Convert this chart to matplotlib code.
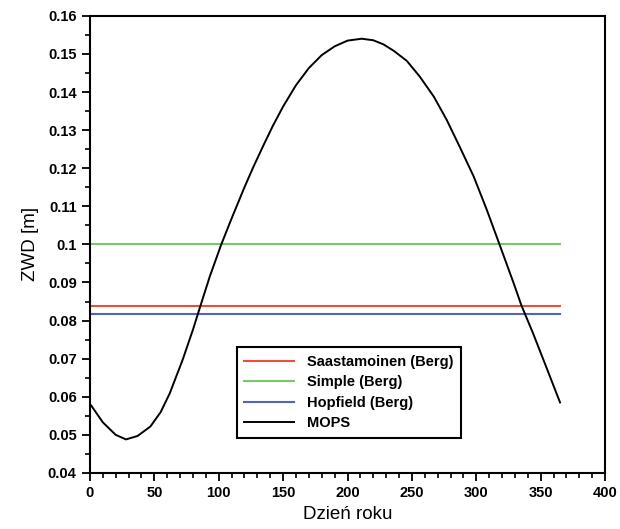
import numpy as np
import matplotlib.pyplot as plt
from matplotlib.ticker import MultipleLocator

# Dni roku i wartosci ZWD (model MOPS)
dni = [1, 10, 20, 28, 37, 47, 55, 62, 72, 80, 85, 93, 102, 110, 120, 127,
       135, 142, 150, 160, 170, 180, 190, 200, 211, 220, 228, 236, 246, 256,
       267, 277, 287, 298, 308, 318, 329, 335, 344, 355, 365]
zwd_mops = [0.0577, 0.0533, 0.0500, 0.0488, 0.0497, 0.0522, 0.0560, 0.0609,
            0.0697, 0.0776, 0.0830, 0.0915, 0.1000, 0.1068, 0.1150, 0.1204,
            0.1262, 0.1311, 0.1362, 0.1418, 0.1463, 0.1497, 0.1520, 0.1535,
            0.1540, 0.1536, 0.1525, 0.1508, 0.1482, 0.1441, 0.1388, 0.1327,
            0.1257, 0.1178, 0.1092, 0.1000, 0.0898, 0.0840, 0.0767, 0.0672,
            0.0585]

# Stale wartosci dla modeli Berga
dni_berg = [1, 365]
zwd_saastamoinen = [0.0837, 0.0837]
zwd_simple = [0.1000, 0.1000]
zwd_hopfield = [0.0816, 0.0816]

plt.rcParams['font.family'] = ['Liberation Sans', 'DejaVu Sans']

fig = plt.figure(figsize=(6.2, 5.29), dpi=100)
ax = fig.add_axes([0.145, 0.106, 0.831, 0.864])

ax.plot(dni_berg, zwd_saastamoinen, color="#e8503a", lw=1.5, label="Saastamoinen (Berg)")
ax.plot(dni_berg, zwd_simple, color="#78c86a", lw=1.5, label="Simple (Berg)")
ax.plot(dni_berg, zwd_hopfield, color="#5464b4", lw=1.5, label="Hopfield (Berg)")
ax.plot(dni, zwd_mops, color="black", lw=1.4, label="MOPS")

ax.set_xlim(0, 400)
ax.set_ylim(0.04, 0.16)
ax.xaxis.set_major_locator(MultipleLocator(50))
ax.xaxis.set_minor_locator(MultipleLocator(10))
ax.yaxis.set_minor_locator(MultipleLocator(0.005))
ax.set_yticks(np.arange(0.04, 0.1601, 0.01))
ax.set_yticklabels(["0.04", "0.05", "0.06", "0.07", "0.08", "0.09", "0.1",
                    "0.11", "0.12", "0.13", "0.14", "0.15", "0.16"])

ax.tick_params(which="major", direction="out", length=6, width=1.3,
               labelsize=10.5, top=False, right=False)
ax.tick_params(which="minor", direction="out", length=3.5, width=1.2,
               top=False, right=False)
for lab in ax.get_xticklabels() + ax.get_yticklabels():
    lab.set_fontweight("bold")
for s in ax.spines.values():
    s.set_linewidth(1.5)

ax.set_xlabel("Dzień roku", fontsize=13.5, labelpad=4)
ax.set_ylabel("ZWD [m]", fontsize=13.5, labelpad=6)

leg = ax.legend(loc="lower left", bbox_to_anchor=(0.285, 0.077),
                prop={"weight": "bold", "size": 10.5}, fancybox=False,
                framealpha=1, edgecolor="black", handlelength=3.4,
                labelspacing=0.45, borderpad=0.5, handletextpad=0.9,
                borderaxespad=0)
leg.get_frame().set_linewidth(1.5)

fig.savefig("out.png", dpi=100)
